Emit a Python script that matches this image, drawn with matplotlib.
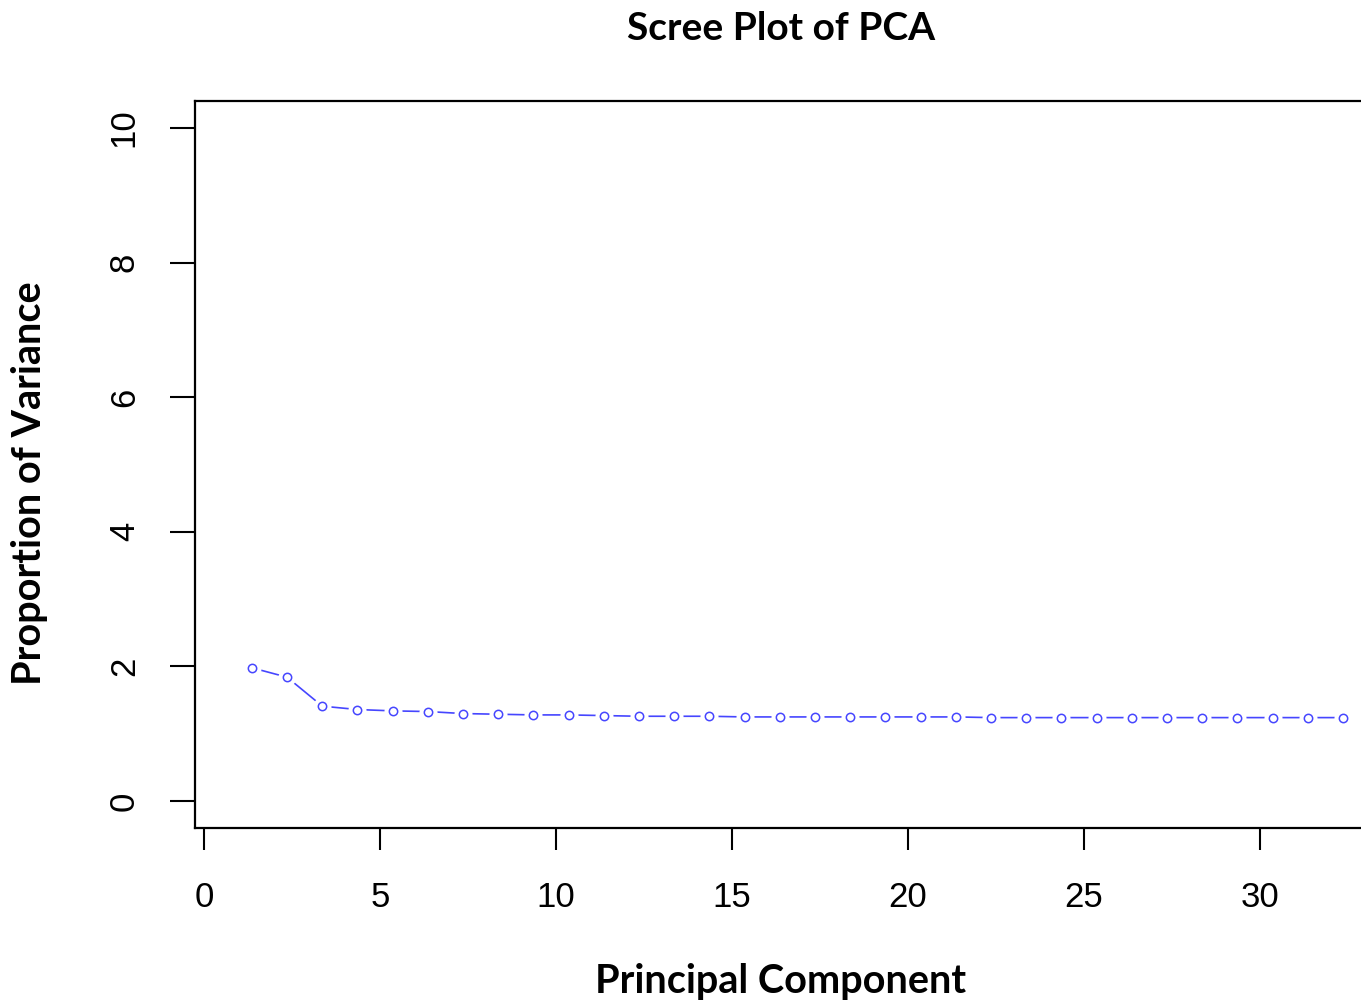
import matplotlib
matplotlib.use("Agg")
import matplotlib.pyplot as plt
import numpy as np

# proportion of variance per principal component
pc = np.arange(1, 33)
variance = [1.98, 1.84, 1.41, 1.36, 1.34, 1.33, 1.30, 1.29, 1.28, 1.28,
            1.27, 1.26, 1.26, 1.26, 1.25, 1.25, 1.25, 1.25, 1.25, 1.25,
            1.25, 1.24, 1.24, 1.24, 1.24, 1.24, 1.24, 1.24, 1.24, 1.24,
            1.24, 1.24]
xticks = [0, 5, 10, 15, 20, 25, 30]
yticks = [0, 2, 4, 6, 8, 10]

# the points sit a little to the right of the integer ticks
x_shift = 0.36

W, H = 1361, 1006
fig = plt.figure(figsize=(W / 100, H / 100), dpi=100)
ax = fig.add_axes([195 / W, 1 - 828 / H, (1367 - 195) / W, (828 - 101) / H])

blue = "#4646ff"
xs = pc + x_shift
ax.plot(xs, variance, color=blue, lw=1.2, zorder=2)
# white discs break the line around each point (type="b" look)
ax.plot(xs, variance, "o", ms=13, mfc="white", mec="none", zorder=3)
ax.plot(xs, variance, "o", ms=6, mfc="white", mec=blue, mew=1.1, zorder=4)

ax.set_xlim(-0.256, 33.04)
ax.set_ylim(-0.4, 10.4)

tick_font = {"family": "Liberation Sans", "size": 25}
ax.set_xticks(xticks)
ax.set_xticklabels([str(t) for t in xticks], fontdict=tick_font)
ax.set_yticks(yticks)
ax.set_yticklabels([str(t) for t in yticks], fontdict=tick_font,
                   rotation=90, va="center")
ax.tick_params(axis="x", length=16, width=1.5, pad=22)
ax.tick_params(axis="y", length=18, width=1.5, pad=21)

for side in ["left", "bottom", "top"]:
    ax.spines[side].set_linewidth(1.6)
ax.spines["right"].set_visible(False)

title_font = {"family": "Lato", "weight": "bold", "size": 28}
ax.set_title("Scree Plot of PCA", fontdict=title_font, pad=44)
label_font = {"family": "Lato", "weight": "bold", "size": 28.5}
fig.text(781 / W, 1 - 982 / H, "Principal Component", ha="center",
         va="center", **label_font)
fig.text(30 / W, 1 - 483 / H, "Proportion of Variance", ha="center",
         va="center", rotation=90, **label_font)

fig.savefig("out.png", dpi=100)
